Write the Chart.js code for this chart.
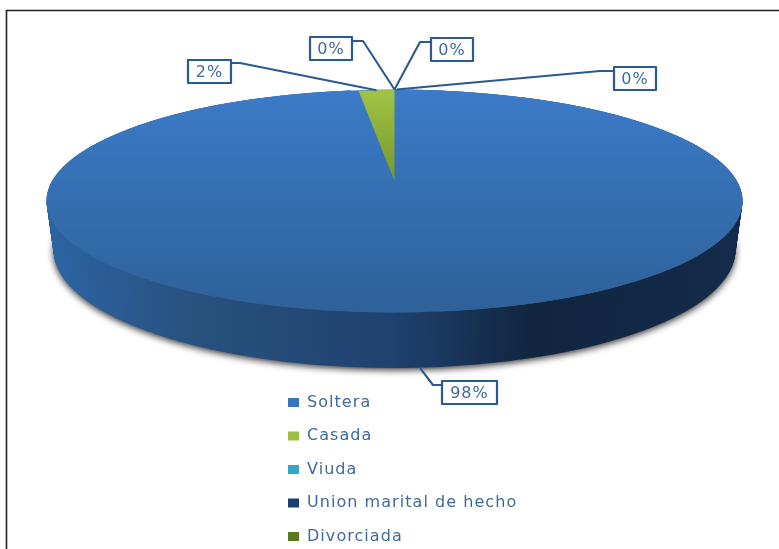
<!DOCTYPE html>
<html><head><meta charset="utf-8">
<style>html,body{margin:0;padding:0;background:#fff}canvas{display:block}</style>
<script src="https://cdn.jsdelivr.net/npm/chart.js@4"></script>
</head><body>
<canvas id="c" width="779" height="549"></canvas>
<script>
const categories = ["Soltera","Casada","Viuda","Union marital de hecho","Divorciada"];
const percentages = [98,2,0,0,0];
const sliceColors = ["#3a74bd","#9abf43","#34a7c6","#1c3f72","#5a7a22"];
const labelOrder = [1,2,3,4,0];

const TOP = {cx:394.5, cy:201, rx:348, ry:111.5};
const BASE = {cx:394.5, cy:250, rx:341, ry:118};
const WEDGE = {cx:394.5, cy:181, rx:287, ry:91};
const TEXT = "#3f6a9e", LINE = "#2a5a90";
const FONT = '16px "DejaVu Sans"';
const SPACING = "1.05px";
const labelBoxes = {
  1:{x:188,y:60,w:43,h:23,elbow:[240,63],from:[231,63],nudge:[0,0]},
  2:{x:310,y:37,w:42,h:23,elbow:[363,41],from:[352,41],nudge:[0,0]},
  3:{x:431,y:38,w:42,h:23,elbow:[420,42],from:[431,42],nudge:[0,0]},
  4:{x:614,y:67,w:42,h:23,elbow:[600,71],from:[614,71],nudge:[2,0]},
  0:{x:442,y:381,w:55,h:23,elbow:[433,385],from:[442,385],nudge:[4,0]}
};

function project(arc, e, rot, fn, ctx){
  const R = arc.outerRadius;
  ctx.save();
  ctx.translate(e.cx, e.cy);
  ctx.scale(e.rx/R, e.ry/R);
  if (rot) ctx.rotate(rot);
  ctx.translate(-arc.x, -arc.y);
  fn();
  ctx.restore();
}
function lin(ctx, x0,y0,x1,y1, stops){
  const g = ctx.createLinearGradient(x0,y0,x1,y1);
  stops.forEach(s=>g.addColorStop(s[0],s[1]));
  return g;
}
function drawArc(arc, ctx, fill){
  const o = arc.options, keep = o.backgroundColor;
  o.backgroundColor = fill;
  arc.draw(ctx);
  o.backgroundColor = keep;
}

const pie3d = {
  id:"pie3d",
  beforeDraw(chart){
    const ctx = chart.ctx;
    ctx.letterSpacing = SPACING;
    ctx.save();
    ctx.strokeStyle = "#222"; ctx.lineWidth = 1.6;
    ctx.beginPath(); ctx.moveTo(6.5,549); ctx.lineTo(6.5,10.5); ctx.lineTo(779,10.5); ctx.stroke();
    ctx.restore();
  },
  afterLayout(chart){
    const l = chart.legend;
    const w = l.right-l.left;
    l.left = 270.5; l.right = l.left+w+20;
    l.top = 377; l.bottom = 900;
    l.adjustHitBoxes && l.adjustHitBoxes();
  },
  beforeDatasetDraw(chart, args){
    const ctx = chart.ctx, meta = args.meta;
    const blue = meta.data[0], green = meta.data[1];
    const R = blue.outerRadius, X = blue.x, Y = blue.y;
    const side = lin(ctx, X-R,Y, X+R,Y, [[0,"#2c64a3"],[.2,"#28527f"],[.5,"#1f416f"],[.7,"#11253f"],[1,"#142b4b"]]);
    const layers = 56;
    for (let i=layers;i>=0;i--){
      const t = i/layers;
      const e = {cx:TOP.cx+(BASE.cx-TOP.cx)*t, cy:TOP.cy+(BASE.cy-TOP.cy)*t, rx:TOP.rx+(BASE.rx-TOP.rx)*t, ry:TOP.ry+(BASE.ry-TOP.ry)*t};
      project(blue,e,0,()=>{
        if (i===layers){ ctx.shadowColor="rgba(0,0,0,.8)"; ctx.shadowBlur=7; ctx.shadowOffsetY=2; }
        drawArc(blue,ctx,side);
      },ctx);
    }
    const stops=[[0,"#3c7bc9"],[1,"#2e6198"]];
    const down = lin(ctx,X,Y-R,X,Y+R,stops);
    const up = lin(ctx,X,Y+R,X,Y-R,stops);
    project(blue,TOP,Math.PI,()=>drawArc(blue,ctx,up),ctx);
    project(blue,TOP,0,()=>drawArc(blue,ctx,down),ctx);
    project(green,WEDGE,0,()=>drawArc(green,ctx,lin(ctx,X,Y-R,X,Y,[[0,"#9fc544"],[1,"#76962c"]])),ctx);
    return false;
  },
  afterDatasetsDraw(chart){
    const ctx = chart.ctx, arcs = chart.getDatasetMeta(0).data;
    ctx.save();
    labelOrder.forEach(i=>{
      const arc = arcs[i], b = labelBoxes[i];
      const mid = (arc.startAngle+arc.endAngle)/2;
      const isFront = Math.sin(mid) > 0;
      const e = isFront ? BASE : (i===1 ? WEDGE : TOP);
      const ax = e.cx+e.rx*Math.cos(mid)+b.nudge[0], ay = e.cy+e.ry*Math.sin(mid)+b.nudge[1];
      ctx.strokeStyle = LINE; ctx.lineWidth = 2.1; ctx.lineJoin="round";
      ctx.beginPath(); ctx.moveTo(b.from[0],b.from[1]); ctx.lineTo(b.elbow[0],b.elbow[1]); ctx.lineTo(ax,ay); ctx.stroke();
      ctx.fillStyle="#fff"; ctx.fillRect(b.x,b.y,b.w,b.h);
      ctx.lineWidth=2.2; ctx.strokeRect(b.x,b.y,b.w,b.h);
      ctx.fillStyle=TEXT; ctx.font=FONT; ctx.textAlign="center"; ctx.textBaseline="middle";
      ctx.fillText(percentages[i]+"%", b.x+b.w/2, b.y+b.h/2+1.5);
    });
    ctx.restore();
  }
};

new Chart(document.getElementById("c"),{
  type:"pie",
  data:{labels:categories,datasets:[{data:percentages,backgroundColor:sliceColors,borderWidth:0,borderColor:"transparent"}]},
  plugins:[pie3d],
  options:{
    responsive:false,animation:false,
    events:[],
    rotation:0,
    plugins:{
      tooltip:{enabled:false},
      legend:{
        position:"left",align:"start",
        labels:{boxWidth:11,boxHeight:9,padding:17.5,color:TEXT,font:{family:"DejaVu Sans",size:16}}
      }
    }
  }
});
</script>
</body></html>
